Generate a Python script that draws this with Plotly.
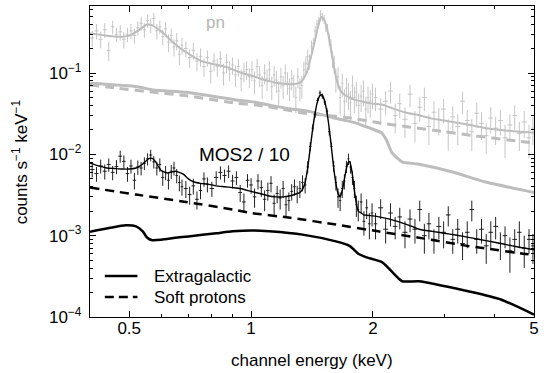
import numpy as np
import plotly.graph_objects as go

# ---------------- pn data (counts s^-1 keV^-1) ----------------
pn_E = [0.405, 0.415, 0.425, 0.435, 0.445, 0.455, 0.465, 0.475, 0.485, 0.495,
        0.505, 0.515, 0.525, 0.535, 0.545, 0.555, 0.565, 0.575, 0.585, 0.595,
        0.605, 0.615, 0.625, 0.635, 0.645, 0.655, 0.665, 0.675, 0.69, 0.705,
        0.72, 0.735, 0.75, 0.765, 0.78, 0.795, 0.81, 0.825, 0.84, 0.855,
        0.87, 0.885, 0.90, 0.915, 0.93, 0.945, 0.96, 0.975, 0.99,
        1.005, 1.02, 1.035, 1.05, 1.065, 1.08, 1.095, 1.11, 1.125, 1.14,
        1.155, 1.17, 1.185, 1.20, 1.215, 1.23, 1.245, 1.26, 1.275, 1.29,
        1.305, 1.32, 1.335, 1.35, 1.365, 1.38, 1.395, 1.41, 1.425, 1.44,
        1.455, 1.47, 1.485, 1.50, 1.515, 1.53, 1.545, 1.56, 1.575, 1.59,
        1.605, 1.62, 1.64, 1.66, 1.68, 1.70, 1.72, 1.74, 1.76, 1.78,
        1.80, 1.82, 1.845, 1.87, 1.895, 1.92, 1.945, 1.97, 1.995,
        2.03, 2.09, 2.15, 2.21, 2.27, 2.33, 2.40, 2.47, 2.54, 2.61,
        2.68, 2.75, 2.83, 2.91, 2.99, 3.07, 3.15, 3.24, 3.33, 3.42,
        3.51, 3.61, 3.71, 3.81, 3.91, 4.02, 4.13, 4.24, 4.36, 4.48,
        4.60, 4.73, 4.86, 4.97]
pn_rate = [0.27, 0.33, 0.26, 0.34, 0.19, 0.37, 0.30, 0.32, 0.26, 0.30,
           0.33, 0.29, 0.36, 0.41, 0.34, 0.44, 0.39, 0.47, 0.33, 0.37,
           0.28, 0.35, 0.24, 0.29, 0.21, 0.25, 0.17, 0.22, 0.20, 0.155,
           0.19, 0.14, 0.16, 0.12, 0.155, 0.105, 0.14, 0.12, 0.15, 0.10,
           0.135, 0.11, 0.125, 0.095, 0.12, 0.085, 0.105, 0.11, 0.09,
           0.11, 0.08, 0.12, 0.095, 0.07, 0.10, 0.085, 0.11, 0.068, 0.095,
           0.082, 0.06, 0.09, 0.07, 0.10, 0.078, 0.065, 0.085, 0.072, 0.05,
           0.09, 0.065, 0.07, 0.11, 0.13, 0.16, 0.14, 0.21, 0.23, 0.33,
           0.40, 0.44, 0.53, 0.49, 0.46, 0.37, 0.35, 0.26, 0.22, 0.15,
           0.13, 0.085, 0.09, 0.05, 0.075, 0.045, 0.065, 0.055, 0.043, 0.07,
           0.05, 0.058, 0.04, 0.052, 0.06, 0.036, 0.05, 0.045, 0.055,
           0.05, 0.036, 0.045, 0.06, 0.03, 0.042, 0.027, 0.055, 0.024, 0.038,
           0.05, 0.022, 0.033, 0.027, 0.036, 0.019, 0.029, 0.022, 0.045, 0.026,
           0.019, 0.032, 0.024, 0.017, 0.028, 0.021, 0.026, 0.016, 0.023, 0.03,
           0.018, 0.025, 0.016, 0.021]
pn_err = [0.06, 0.07, 0.06, 0.07, 0.05, 0.07, 0.06, 0.07, 0.06, 0.06,
          0.07, 0.06, 0.07, 0.08, 0.07, 0.08, 0.08, 0.08, 0.07, 0.07,
          0.06, 0.07, 0.06, 0.06, 0.05, 0.06, 0.045, 0.05, 0.045, 0.04,
          0.045, 0.035, 0.04, 0.03, 0.035, 0.03, 0.035, 0.03, 0.035, 0.03,
          0.035, 0.03, 0.03, 0.028, 0.03, 0.025, 0.028, 0.028, 0.025,
          0.03, 0.025, 0.03, 0.028, 0.022, 0.028, 0.025, 0.03, 0.022, 0.027,
          0.025, 0.02, 0.026, 0.022, 0.028, 0.024, 0.02, 0.024, 0.022, 0.018,
          0.025, 0.02, 0.022, 0.028, 0.03, 0.035, 0.03, 0.04, 0.04, 0.05,
          0.05, 0.05, 0.06, 0.055, 0.055, 0.05, 0.05, 0.045, 0.04, 0.035,
          0.033, 0.028, 0.027, 0.02, 0.024, 0.018, 0.022, 0.02, 0.017, 0.023,
          0.018, 0.02, 0.016, 0.019, 0.021, 0.015, 0.018, 0.017, 0.019,
          0.016, 0.013, 0.015, 0.018, 0.012, 0.014, 0.011, 0.017, 0.010, 0.013,
          0.016, 0.009, 0.012, 0.010, 0.012, 0.008, 0.010, 0.009, 0.014, 0.009,
          0.008, 0.011, 0.009, 0.007, 0.010, 0.008, 0.009, 0.007, 0.008, 0.010,
          0.007, 0.009, 0.007, 0.008]

# pn model curves
pn_model_E = [0.40, 0.42, 0.44, 0.46, 0.48, 0.50, 0.52, 0.54, 0.55, 0.56,
              0.57, 0.58, 0.60, 0.62, 0.64, 0.66, 0.68, 0.70, 0.73, 0.76,
              0.80, 0.84, 0.88, 0.92, 0.96, 1.00, 1.05, 1.10, 1.15, 1.20,
              1.25, 1.30, 1.33, 1.36, 1.38, 1.40, 1.42, 1.44, 1.46, 1.48,
              1.49, 1.50, 1.52, 1.54, 1.56, 1.58, 1.60, 1.62, 1.64, 1.66,
              1.70, 1.75, 1.80, 1.90, 2.00, 2.10, 2.20, 2.30, 2.45, 2.60,
              2.80, 3.00, 3.20, 3.50, 3.80, 4.20, 4.60, 5.00]
pn_model = [0.307, 0.297, 0.287, 0.282, 0.279, 0.288, 0.32, 0.365, 0.39, 0.396,
            0.385, 0.365, 0.325, 0.28, 0.24, 0.212, 0.19, 0.173, 0.152, 0.138,
            0.13, 0.124, 0.116, 0.106, 0.098, 0.093, 0.086, 0.080, 0.076, 0.074,
            0.073, 0.074, 0.078, 0.092, 0.11, 0.145, 0.19, 0.26, 0.35, 0.45,
            0.49, 0.48, 0.44, 0.35, 0.26, 0.18, 0.125, 0.09, 0.072, 0.062,
            0.054, 0.050, 0.047, 0.044, 0.042, 0.041, 0.038, 0.035, 0.032, 0.0303,
            0.0275, 0.026, 0.0247, 0.0228, 0.021, 0.0198, 0.0189, 0.0184]
pn_sp_E = [0.40, 0.47, 0.575, 0.693, 0.919, 1.03, 1.22, 1.34, 1.75, 2.07,
           2.45, 3.02, 3.44, 4.75, 5.0]
pn_sp = [0.0713, 0.0649, 0.058, 0.0526, 0.0425, 0.0405, 0.0352, 0.0323, 0.0281, 0.0244,
         0.0217, 0.0189, 0.0173, 0.0142, 0.0138]
pn_xg_E = [0.40, 0.523, 0.575, 0.693, 0.919, 1.0, 1.22, 1.40, 1.615, 1.81,
           1.96, 2.10, 2.16, 2.23, 2.36, 2.58, 3.13, 3.77, 5.0]
pn_xg = [0.0748, 0.068, 0.0618, 0.058, 0.0467, 0.0445, 0.0369, 0.0335, 0.0278, 0.0244,
         0.0211, 0.0184, 0.0150, 0.0104, 0.0081, 0.0076, 0.0061, 0.0046, 0.0034]

# ---------------- MOS2 / 10 data ----------------
mos_E = [0.405, 0.415, 0.425, 0.435, 0.445, 0.455, 0.465, 0.475, 0.485, 0.495,
         0.505, 0.515, 0.525, 0.535, 0.545, 0.555, 0.565, 0.575, 0.585, 0.595,
         0.605, 0.615, 0.625, 0.635, 0.645, 0.655, 0.665, 0.675, 0.69, 0.705,
         0.72, 0.735, 0.75, 0.765, 0.78, 0.80, 0.82, 0.84, 0.86, 0.88,
         0.90, 0.92, 0.94, 0.96, 0.98,
         1.00, 1.02, 1.04, 1.06, 1.08, 1.10, 1.12, 1.14, 1.16, 1.18,
         1.20, 1.22, 1.24, 1.26, 1.28, 1.30, 1.32, 1.34, 1.36, 1.38,
         1.40, 1.42, 1.44, 1.46, 1.48, 1.50, 1.52, 1.54, 1.56, 1.58,
         1.60, 1.62, 1.64, 1.66, 1.68, 1.70, 1.72, 1.74, 1.76, 1.78,
         1.80, 1.82, 1.84, 1.87, 1.90, 1.93, 1.96, 1.99,
         2.03, 2.09, 2.15, 2.21, 2.27, 2.33, 2.40, 2.47, 2.54, 2.61,
         2.68, 2.75, 2.83, 2.91, 2.99, 3.07, 3.15, 3.24, 3.33, 3.42,
         3.51, 3.61, 3.71, 3.81, 3.91, 4.02, 4.13, 4.24, 4.36, 4.48,
         4.60, 4.73, 4.86, 4.97]
mos_rate = [0.0065, 0.0058, 0.0072, 0.0062, 0.0075, 0.0060, 0.0071, 0.0095, 0.0082, 0.0058,
            0.0072, 0.0048, 0.0070, 0.0068, 0.0078, 0.0088, 0.0098, 0.0081, 0.0068, 0.0075,
            0.0052, 0.0060, 0.0048, 0.0062, 0.0068, 0.0055, 0.0045, 0.0040, 0.0038, 0.0032,
            0.0041, 0.0028, 0.0036, 0.0050, 0.0043, 0.0038, 0.0052, 0.0060, 0.0055, 0.0062,
            0.0047, 0.0052, 0.0034, 0.0026, 0.0048,
            0.0042, 0.0030, 0.0047, 0.0039, 0.0028, 0.0036, 0.0044, 0.0025, 0.0033, 0.0029,
            0.0038, 0.0024, 0.0027, 0.0035, 0.0040, 0.0033, 0.0038, 0.0045, 0.0042, 0.0070,
            0.0125, 0.021, 0.031, 0.046, 0.057, 0.052, 0.044, 0.034, 0.019, 0.0125,
            0.0072, 0.0045, 0.0030, 0.0027, 0.0038, 0.0047, 0.0071, 0.0088, 0.0070, 0.0052,
            0.0038, 0.0024, 0.0021, 0.0026, 0.0015, 0.0022, 0.0014, 0.0019,
            0.0014, 0.0022, 0.0012, 0.0019, 0.0013, 0.0017, 0.0011, 0.0016, 0.0012, 0.0021,
            0.0010, 0.0014, 0.0009, 0.0013, 0.0011, 0.0018, 0.0009, 0.0012, 0.0008, 0.0011,
            0.0021, 0.0009, 0.0012, 0.00075, 0.0011, 0.0013, 0.0008, 0.0010, 0.00065, 0.0009,
            0.0011, 0.0007, 0.0009, 0.00075]
mos_err = [0.0013, 0.0012, 0.0014, 0.0013, 0.0014, 0.0012, 0.0014, 0.0016, 0.0015, 0.0012,
           0.0014, 0.0011, 0.0014, 0.0013, 0.0014, 0.0015, 0.0016, 0.0014, 0.0013, 0.0014,
           0.0011, 0.0012, 0.0011, 0.0012, 0.0013, 0.0011, 0.0010, 0.0009, 0.0009, 0.0008,
           0.0009, 0.0007, 0.0008, 0.0010, 0.0009, 0.0008, 0.0010, 0.0011, 0.0010, 0.0011,
           0.0009, 0.0010, 0.0008, 0.0007, 0.0009,
           0.0009, 0.0008, 0.0010, 0.0009, 0.0008, 0.0009, 0.0010, 0.0007, 0.0008, 0.0008,
           0.0009, 0.0007, 0.0007, 0.0008, 0.0009, 0.0008, 0.0009, 0.0010, 0.0009, 0.0012,
           0.0016, 0.0022, 0.0028, 0.0035, 0.0040, 0.0038, 0.0034, 0.0029, 0.0020, 0.0015,
           0.0011, 0.0009, 0.0008, 0.0007, 0.0009, 0.0010, 0.0012, 0.0014, 0.0012, 0.0010,
           0.0009, 0.0007, 0.0006, 0.0007, 0.0005, 0.0006, 0.0005, 0.0006,
           0.0005, 0.0006, 0.0004, 0.0006, 0.0004, 0.0005, 0.0004, 0.0005, 0.0004, 0.0006,
           0.0004, 0.0005, 0.0003, 0.0004, 0.0004, 0.0005, 0.0003, 0.0004, 0.0003, 0.0004,
           0.0006, 0.0003, 0.0004, 0.0003, 0.0004, 0.0004, 0.0003, 0.0003, 0.0003, 0.0003,
           0.0004, 0.0003, 0.0003, 0.0003]

mos_model_E = [0.40, 0.42, 0.44, 0.46, 0.48, 0.50, 0.52, 0.53, 0.54, 0.55,
               0.56, 0.57, 0.58, 0.59, 0.60, 0.62, 0.64, 0.65, 0.66, 0.68,
               0.70, 0.72, 0.75, 0.78, 0.82, 0.86, 0.90, 0.94, 1.00, 1.05,
               1.10, 1.15, 1.20, 1.25, 1.30, 1.32, 1.34, 1.36, 1.38, 1.40,
               1.42, 1.44, 1.46, 1.48, 1.49, 1.50, 1.52, 1.54, 1.56, 1.58,
               1.60, 1.62, 1.64, 1.66, 1.68, 1.70, 1.72, 1.74, 1.75, 1.76,
               1.78, 1.80, 1.82, 1.84, 1.87, 1.90, 2.00, 2.10, 2.20, 2.30,
               2.45, 2.60, 2.80, 3.00, 3.20, 3.50, 3.80, 4.20, 4.60, 5.00]
mos_model = [0.0078, 0.0072, 0.0068, 0.0067, 0.0066, 0.0066, 0.0068, 0.0071, 0.0076, 0.0083,
             0.0089, 0.0089, 0.0082, 0.0071, 0.0063, 0.0059, 0.0061, 0.0062, 0.0061, 0.0057,
             0.0050, 0.0046, 0.0044, 0.0043, 0.0041, 0.0040, 0.0039, 0.0038, 0.0035, 0.0033,
             0.0031, 0.0030, 0.0030, 0.0031, 0.0033, 0.0034, 0.0037, 0.0045, 0.0068, 0.0119,
             0.0207, 0.0327, 0.0451, 0.053, 0.054, 0.053, 0.0451, 0.0327, 0.0207, 0.0119,
             0.0068, 0.0044, 0.0033, 0.0030, 0.0036, 0.0049, 0.0067, 0.0080, 0.0082, 0.0076,
             0.0056, 0.0036, 0.0025, 0.0020, 0.0019, 0.0018, 0.00175, 0.00168, 0.0016, 0.0015,
             0.00135, 0.0012, 0.00113, 0.00107, 0.00102, 0.00094, 0.00087, 0.00079, 0.00072, 0.00067]
mos_sp_E = [0.40, 0.52, 0.69, 0.90, 1.0, 1.25, 1.62, 2.06, 2.68, 3.36,
            3.77, 4.70, 5.0]
mos_sp = [0.0039, 0.0032, 0.0026, 0.0021, 0.0019, 0.00166, 0.00137, 0.00113, 0.00092, 0.00076,
          0.0007, 0.0006, 0.00058]
mos_xg_E = [0.40, 0.446, 0.49, 0.52, 0.54, 0.553, 0.57, 0.60, 0.65, 0.70,
            0.82, 0.90, 1.0, 1.11, 1.34, 1.62, 1.75, 1.85, 1.93, 2.11,
            2.28, 2.36, 2.60, 2.95, 3.44, 4.14, 5.0]
mos_xg = [0.00112, 0.00124, 0.00134, 0.0013, 0.00113, 0.00095, 0.00088, 0.00089, 0.00094, 0.00098,
          0.00107, 0.00113, 0.00116, 0.00113, 0.00103, 0.00085, 0.00075, 0.00059, 0.00054, 0.00047,
          0.00032, 0.000275, 0.000275, 0.000244, 0.000207, 0.000164, 0.000107]

x_major = [0.5, 1, 2, 5]
x_major_text = ["0.5", "1", "2", "5"]
x_minor = [0.6, 0.7, 0.8, 0.9, 3, 4]
y_major = [1e-4, 1e-3, 1e-2, 1e-1]
y_major_text = ["10<sup>−4</sup>", "10<sup>−3</sup>", "10<sup>−2</sup>", "10<sup>−1</sup>"]
y_minor = [m * 10.0 ** k for k in (-4, -3, -2, -1) for m in range(2, 10)]
legend_labels = ["Extragalactic", "Soft protons"]


def half_bins(E):
    E = np.asarray(E, dtype=float)
    d = np.diff(E)
    left = np.concatenate([[d[0]], d])
    right = np.concatenate([d, [d[-1]]])
    return np.minimum(left, right) / 2.0


FONT = "Liberation Sans, Arial, sans-serif"
PN_DATA = "#c6c6c6"
PN_LINE = "#bdbdbd"
DASH = "9px,6px"

fig = go.Figure()

# pn spectrum
fig.add_trace(go.Scatter(
    x=pn_E, y=pn_rate, mode="markers", marker=dict(size=1, color=PN_DATA),
    error_y=dict(type="data", array=pn_err, color=PN_DATA, thickness=1, width=0),
    error_x=dict(type="data", array=half_bins(pn_E), color=PN_DATA, thickness=1, width=0),
    showlegend=False, hoverinfo="skip"))
fig.add_trace(go.Scatter(x=pn_sp_E, y=pn_sp, mode="lines",
                         line=dict(color=PN_LINE, width=3, dash=DASH, shape="spline", smoothing=0.5),
                         showlegend=False))
fig.add_trace(go.Scatter(x=pn_xg_E, y=pn_xg, mode="lines",
                         line=dict(color=PN_LINE, width=3, shape="spline", smoothing=0.5),
                         showlegend=False))
fig.add_trace(go.Scatter(x=pn_model_E, y=pn_model, mode="lines",
                         line=dict(color=PN_LINE, width=2, shape="spline", smoothing=0.4),
                         showlegend=False))

# MOS2 spectrum
fig.add_trace(go.Scatter(
    x=mos_E, y=mos_rate, mode="markers", marker=dict(size=1, color="#222222"),
    error_y=dict(type="data", array=mos_err, color="#222222", thickness=1, width=0),
    error_x=dict(type="data", array=half_bins(mos_E), color="#222222", thickness=1, width=0),
    showlegend=False, hoverinfo="skip"))
fig.add_trace(go.Scatter(x=mos_sp_E, y=mos_sp, mode="lines", name=legend_labels[1],
                         line=dict(color="black", width=2.5, dash=DASH, shape="spline", smoothing=0.5),
                         showlegend=False))
fig.add_trace(go.Scatter(x=mos_xg_E, y=mos_xg, mode="lines", name=legend_labels[0],
                         line=dict(color="black", width=2.5, shape="spline", smoothing=0.6),
                         showlegend=False))
fig.add_trace(go.Scatter(x=mos_model_E, y=mos_model, mode="lines",
                         line=dict(color="black", width=1.4, shape="spline", smoothing=0.4),
                         showlegend=False))

axis_common = dict(showline=True, linecolor="black", linewidth=1.3, mirror="ticks",
                   ticks="inside", ticklen=6, tickwidth=1, tickcolor="black",
                   showgrid=False, zeroline=False,
                   tickfont=dict(family=FONT, size=17, color="black"))

fig.update_xaxes(type="log", range=[np.log10(0.4), np.log10(5.0)],
                 tickmode="array", tickvals=x_major, ticktext=x_major_text,
                 ticklabelstandoff=-5,
                 minor=dict(tickmode="array", tickvals=x_minor, ticks="inside", ticklen=3,
                            tickcolor="black", tickwidth=1, showgrid=False),
                 **axis_common)
fig.update_yaxes(type="log", range=[-4, -0.176],
                 tickmode="array", tickvals=y_major, ticktext=y_major_text,
                 ticklabelstandoff=4,
                 minor=dict(tickmode="array", tickvals=y_minor, ticks="inside", ticklen=3,
                            tickcolor="black", tickwidth=1, showgrid=False),
                 **axis_common)

# hand-drawn legend (line samples + labels), in paper coordinates
leg_x0, leg_x1, leg_tx = 0.0334, 0.1069, 0.1403
leg_y = [0.1318, 0.0643]
shapes = [
    dict(type="line", xref="paper", yref="paper", x0=leg_x0, x1=leg_x1,
         y0=leg_y[0], y1=leg_y[0], line=dict(color="black", width=2.5)),
    dict(type="line", xref="paper", yref="paper", x0=leg_x0, x1=leg_x1,
         y0=leg_y[1], y1=leg_y[1], line=dict(color="black", width=2.5, dash="9px,5px")),
]
annotations = [
    dict(text=legend_labels[0], x=leg_tx, y=leg_y[0], xref="paper", yref="paper",
         xanchor="left", yanchor="middle", showarrow=False,
         font=dict(family=FONT, size=17, color="black")),
    dict(text=legend_labels[1], x=leg_tx, y=leg_y[1], xref="paper", yref="paper",
         xanchor="left", yanchor="middle", showarrow=False,
         font=dict(family=FONT, size=17, color="black")),
    dict(text="pn", x=0.283, y=0.947, xref="paper", yref="paper",
         xanchor="center", yanchor="middle", showarrow=False,
         font=dict(family=FONT, size=17, color="#b5b5b5")),
    dict(text="MOS2 / 10", x=0.347, y=0.521, xref="paper", yref="paper",
         xanchor="center", yanchor="middle", showarrow=False,
         font=dict(family=FONT, size=19, color="black")),
    dict(text="channel energy (keV)", x=0.5, y=-0.139, xref="paper", yref="paper",
         xanchor="center", yanchor="middle", showarrow=False,
         font=dict(family=FONT, size=17, color="black")),
    dict(text="counts s<sup>−1</sup> keV<sup>−1</sup>", x=-0.158, y=0.5,
         xref="paper", yref="paper", textangle=-90, showarrow=False,
         xanchor="center", yanchor="middle",
         font=dict(family=FONT, size=17, color="black")),
]

fig.update_layout(
    width=544, height=373,
    margin=dict(l=90, r=5, t=6, b=56),
    paper_bgcolor="white", plot_bgcolor="white",
    font=dict(family=FONT, size=17, color="black"),
    showlegend=False,
    shapes=shapes,
    annotations=annotations,
)

fig.write_html("out.html")
